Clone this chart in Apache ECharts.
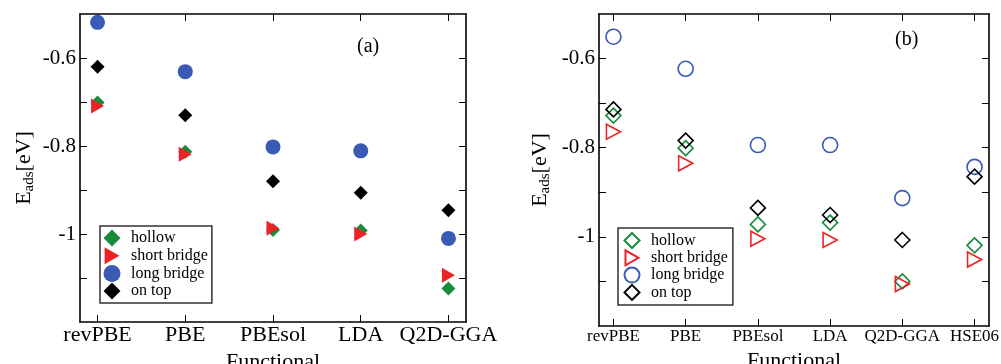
<!DOCTYPE html>
<html><head><meta charset="utf-8">
<script src="https://cdn.jsdelivr.net/npm/echarts@6/dist/echarts.min.js"></script>
<style>html,body{margin:0;padding:0;background:#fff}#c{width:1001px;height:364px}</style>
</head><body><div id="c"></div><script>
// ---- data ----
const categoriesA = ['revPBE', 'PBE', 'PBEsol', 'LDA', 'Q2D-GGA'];
const categoriesB = ['revPBE', 'PBE', 'PBEsol', 'LDA', 'Q2D-GGA', 'HSE06'];
const hollowA = [-0.701, -0.813, -0.991, -0.992, -1.124];
const shortBridgeA = [-0.709, -0.819, -0.987, -1.000, -1.094];
const longBridgeA = [-0.519, -0.631, -0.802, -0.811, -1.010];
const onTopA = [-0.620, -0.730, -0.880, -0.906, -0.946];
const hollowB = [-0.728, -0.801, -0.972, -0.968, -1.100, -1.019];
const shortBridgeB = [-0.764, -0.835, -1.004, -1.007, -1.106, -1.051];
const longBridgeB = [-0.551, -0.623, -0.794, -0.794, -0.913, -0.843];
const onTopB = [-0.714, -0.784, -0.935, -0.951, -1.007, -0.865];
const yTickValues = [-1.1, -1.0, -0.9, -0.8, -0.7, -0.6];
const yLabelValues = [-1.0, -0.8, -0.6];
const seriesNames = ['hollow', 'short bridge', 'long bridge', 'on top'];

// ---- styling ----
const FONT = 'Liberation Serif';
const GREEN = '#168c3c', RED = '#ec2227', BLUE = '#3a5bb5', BLACK = '#000';
const RIGHT_TRIANGLE = 'path://M0,0L13,7.5L0,15Z';
const lineStyle = {color: '#000', width: 1.6};

function xAxes(gridIndex, cats, labelSize, nameGap) {
  const pos = cats.map((c, i) => i + 1);
  const base = {
    type: 'value', gridIndex, min: 0.8, max: cats.length + 0.2,
    axisLine: {show: true, onZero: false, lineStyle},
    axisTick: {show: true, inside: true, length: 7, customValues: pos, lineStyle: {color: '#000', width: 1}},
    splitLine: {show: false}
  };
  return [
    Object.assign({}, base, {
      position: 'bottom',
      axisLabel: {customValues: pos, formatter: v => cats[Math.round(v) - 1] || '', fontFamily: FONT, fontSize: labelSize, color: '#000', margin: 2},
      name: 'Functional', nameLocation: 'middle', nameGap,
      nameTextStyle: {fontFamily: FONT, fontSize: 22, color: '#000'}
    }),
    Object.assign({}, base, {position: 'top', axisLabel: {show: false}})
  ];
}
function yAxes(gridIndex, nameGap) {
  const base = {
    type: 'value', gridIndex, min: -1.2, max: -0.5,
    axisLine: {show: true, onZero: false, lineStyle},
    axisTick: {show: true, inside: true, length: 7, customValues: yTickValues, lineStyle: {color: '#000', width: 1}},
    splitLine: {show: false}
  };
  return [
    Object.assign({}, base, {
      position: 'left',
      axisLabel: {customValues: yLabelValues, formatter: v => (Math.abs(v + 1) < 1e-9 ? '-1' : v.toFixed(1)), fontFamily: FONT, fontSize: 21, color: '#000', margin: 4},
      name: '{e|E}{s|ads}{e|[eV]}', nameLocation: 'middle', nameGap,
      nameTextStyle: {
        rich: {
          e: {fontFamily: FONT, fontSize: 22, color: '#000', lineHeight: 26},
          s: {fontFamily: FONT, fontSize: 15, color: '#000', lineHeight: 8, verticalAlign: 'bottom'}
        }
      }
    }),
    Object.assign({}, base, {position: 'right', axisLabel: {show: false}})
  ];
}
function sc(name, vals, ai, symbol, size, itemStyle, z) {
  return {
    type: 'scatter', name, xAxisIndex: ai, yAxisIndex: ai,
    data: vals.map((v, i) => [i + 1, v]),
    symbol, symbolSize: size,
    itemStyle: Object.assign({opacity: 1}, itemStyle), z,
    emphasis: {disabled: true}
  };
}
const hollowStyle = c => ({color: 'rgba(0,0,0,0)', borderColor: c, borderWidth: 1.6});

const chart = echarts.init(document.getElementById('c'), null, {renderer: 'canvas'});
chart.setOption({
  animation: false,
  backgroundColor: '#fff',
  grid: [
    {left: 80, top: 14, width: 386, height: 308, outerBoundsMode: 'none', containLabel: false},
    {left: 599, top: 14, width: 390, height: 312, outerBoundsMode: 'none', containLabel: false}
  ],
  xAxis: [...xAxes(0, categoriesA, 22, 23), ...xAxes(1, categoriesB, 17, 20)],
  yAxis: [...yAxes(0, 43), ...yAxes(1, 46)],
  legend: [
    {
      data: seriesNames, orient: 'vertical', left: 100, top: 226,
      padding: [3.5, 4, 3.5, 3.5], itemWidth: 17, itemHeight: 17, itemGap: 0.7,
      borderColor: '#333', borderWidth: 1.5, selectedMode: false,
      textStyle: {fontFamily: FONT, fontSize: 16, color: '#000', lineHeight: 16, padding: [0, 0, 0, 5.5]}
    },
    {
      data: seriesNames.map(n => n + ' (b)'), orient: 'vertical', left: 618, top: 228,
      padding: [4, 5, 4, 5.5], itemWidth: 15, itemHeight: 15, itemGap: 0.3,
      borderColor: '#333', borderWidth: 1.5, selectedMode: false,
      formatter: n => n.replace(' (b)', ''),
      textStyle: {fontFamily: FONT, fontSize: 16, color: '#000', lineHeight: 16, padding: [0, 0, 0, 6.5]}
    }
  ],
  graphic: [
    {type: 'text', left: 357, top: 37, style: {text: '(a)', font: '20px "Liberation Serif"', fill: '#000'}},
    {type: 'text', left: 895, top: 30, style: {text: '(b)', font: '20px "Liberation Serif"', fill: '#000'}}
  ],
  series: [
    sc('hollow', hollowA, 0, 'diamond', 14, {color: GREEN}, 2),
    sc('short bridge', shortBridgeA, 0, RIGHT_TRIANGLE, [13, 15], {color: RED}, 3),
    sc('long bridge', longBridgeA, 0, 'circle', 15, {color: BLUE}, 4),
    sc('on top', onTopA, 0, 'diamond', 14, {color: BLACK}, 5),
    sc('hollow (b)', hollowB, 2, 'diamond', 15, hollowStyle(GREEN), 2),
    sc('short bridge (b)', shortBridgeB, 2, RIGHT_TRIANGLE, [14, 15], hollowStyle(RED), 3),
    sc('long bridge (b)', longBridgeB, 2, 'circle', 15, hollowStyle(BLUE), 4),
    sc('on top (b)', onTopB, 2, 'diamond', 15, hollowStyle(BLACK), 5)
  ]
});
</script></body></html>
